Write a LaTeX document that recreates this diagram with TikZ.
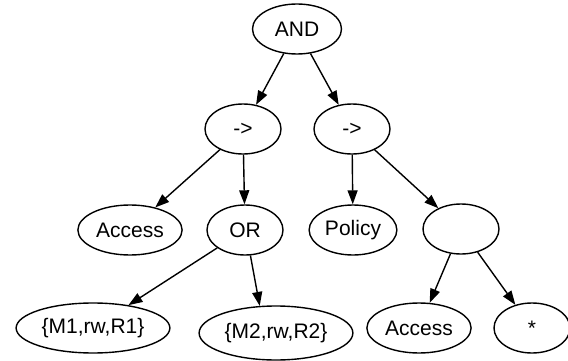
\documentclass[tikz,border=0pt]{standalone}
\usepackage{fontspec}
\setmainfont{Liberation Sans}
\usetikzlibrary{shapes,arrows.meta}

\begin{document}
\begin{tikzpicture}
	[x=1pt, y=-1pt,
	tnode/.style={draw, ellipse, line width=1.4pt,
		minimum width=76pt, minimum height=50pt, inner sep=3pt,
		font=\fontsize{21}{25}\selectfont},
	tedge/.style={-{Triangle[length=14pt,width=10pt]}, line width=1.4pt}]
	
	\useasboundingbox (0,0) rectangle (568,361);
	
	% levels
	\node [tnode, minimum width=89pt] (and) at (297,29) {AND};
	\node [tnode] (implL) at (243,129) {->};
	\node [tnode] (implR) at (352,129) {->};
	\node [tnode] (accessL) at (130,230) {Access};
	\node [tnode] (or) at (245,230) {OR};
	\node [tnode] (policy) at (353,230) {Policy};
	\node [tnode] (blank) at (461,229) {};
	\node [tnode] (m1) at (93,328) {\{M1,rw,R1\}};
	\node [tnode, minimum height=54pt] (m2) at (276,333) {\{M2,rw,R2\}};
	\node [tnode] (accessR) at (419,328) {Access};
	\node [tnode] (star) at (532,328) {*};
	
	% edges
	\draw [tedge] (and) -- (implL);
	\draw [tedge] (and) -- (implR);
	\draw [tedge] (implL) -- (accessL);
	\draw [tedge] (implL) -- (or);
	\draw [tedge] (implR) -- (policy);
	\draw [tedge] (implR) -- (blank);
	\draw [tedge] (or) -- (m1);
	\draw [tedge] (or.-78) -- (m2.121);
	\draw [tedge] (blank) -- (accessR);
	\draw [tedge] (blank) -- (star);
\end{tikzpicture}
\end{document}
